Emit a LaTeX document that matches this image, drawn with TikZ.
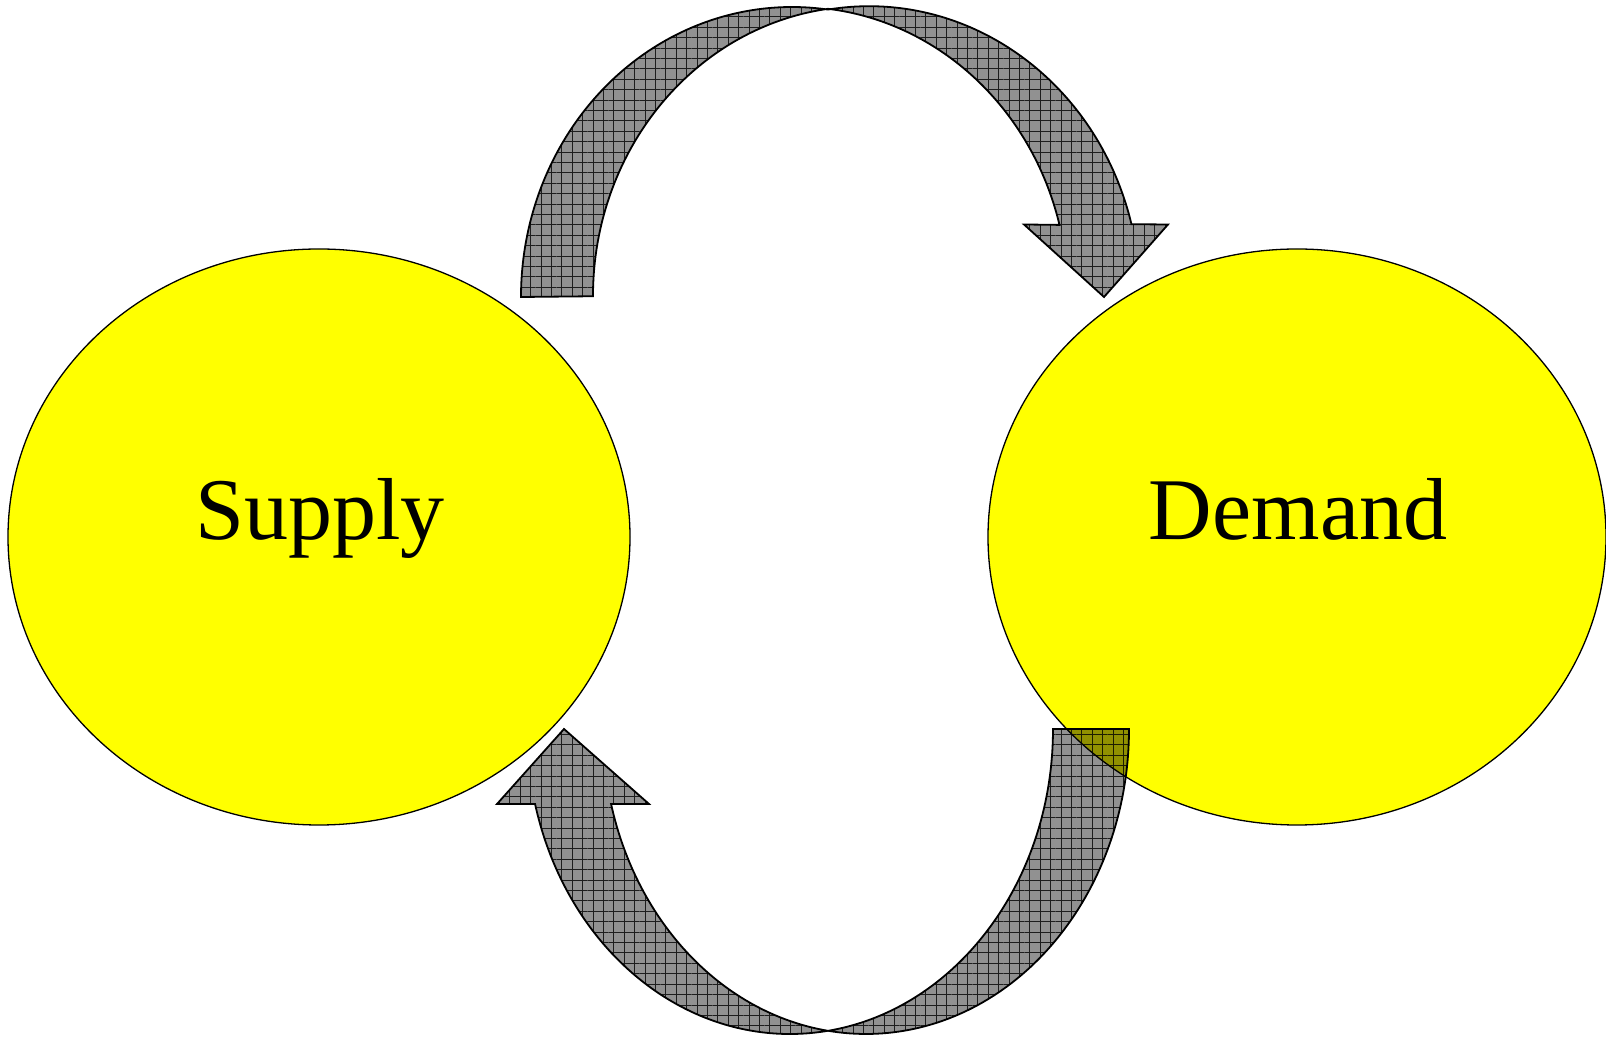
\documentclass[tikz,border=0pt]{standalone}
\usepackage{fontspec}
\setmainfont{Liberation Serif}
\usetikzlibrary{shapes.geometric,patterns.meta}
\definecolor{arrowgray}{RGB}{145,145,145}
\definecolor{bubbleyellow}{RGB}{255,255,0}
\tikzset{
  bubble/.style={ellipse, draw=black, line width=1.3pt, fill=bubbleyellow, inner sep=0pt},
  bigword/.style={font=\fontsize{88}{100}\selectfont, anchor=base, inner sep=0pt},
  flowarrow/.style={draw=black, line width=1.8pt, line join=miter,
    preaction={fill=arrowgray},
    pattern={Hatch[angle=0,distance=10.4pt,line width=0.6pt]}, pattern color=black!80}
}
\begin{document}
\begin{tikzpicture}[x=1pt,y=1pt]
\useasboundingbox (0,0) rectangle (1606,1036);
\node[bubble, minimum width=622pt, minimum height=576pt] (supply) at (319,499) {};
\node[bubble, minimum width=618pt, minimum height=576pt] (demand) at (1297,499) {};
\node[bigword] (supplytext) at (320,496) {Supply};
\node[bigword] (demandtext) at (1298,496) {Demand};
\begin{scope}[blend mode=multiply]
% top arrow: Supply -> Demand
\path[flowarrow] (521,739)
  arc[start angle=180,end angle=82.37,x radius=271,y radius=290]
  arc[start angle=98.7,end angle=14.38,x radius=271,y radius=290]
  -- (1168,811.5) -- (1104,739) -- (1024,811.5) -- (1059.5,811.1)
  arc[start angle=14.38,end angle=83.43,x radius=271,y radius=290]
  arc[start angle=97.63,end angle=180,x radius=271,y radius=290]
  -- cycle;
% bottom arrow: Demand -> Supply
\path[flowarrow] (1129,307)
  arc[start angle=0,end angle=-98.31,x radius=263,y radius=305]
  arc[start angle=-81.69,end angle=-165.75,x radius=263,y radius=305]
  -- (497,232) -- (564,307) -- (649,232) -- (611.1,231.9)
  arc[start angle=-165.75,end angle=-98.31,x radius=263,y radius=305]
  arc[start angle=-81.69,end angle=0,x radius=263,y radius=305]
  -- cycle;
\end{scope}
\end{tikzpicture}
\end{document}
